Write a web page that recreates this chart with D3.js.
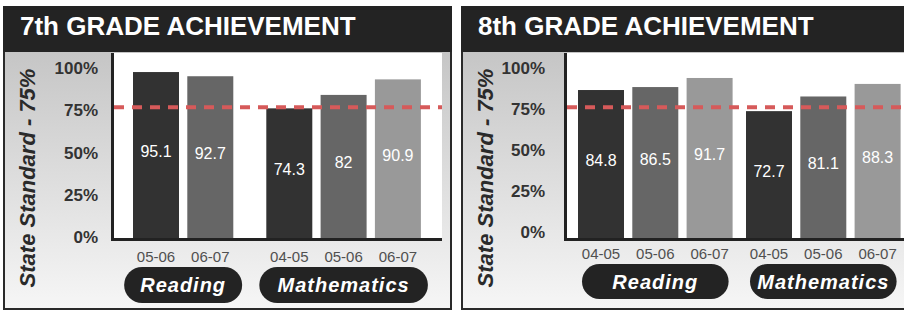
<!DOCTYPE html>
<html>
<head>
<meta charset="utf-8">
<script src="https://cdn.jsdelivr.net/npm/d3@7"></script>
<style>
  body { margin: 0; background: #fff; }
  svg { display: block; font-family: Arial, "Liberation Sans", sans-serif; }
</style>
</head>
<body>
<div id="chart-area"></div>
<script>
// Data
var titles = ["7th GRADE ACHIEVEMENT", "8th GRADE ACHIEVEMENT"];
var subjects = ["Reading", "Mathematics"];
var yearsReading7 = ["05-06", "06-07"];
var valuesReading7 = [95.1, 92.7];
var yearsMath7 = ["04-05", "05-06", "06-07"];
var valuesMath7 = [74.3, 82, 90.9];
var yearsReading8 = ["04-05", "05-06", "06-07"];
var valuesReading8 = [84.8, 86.5, 91.7];
var yearsMath8 = ["04-05", "05-06", "06-07"];
var valuesMath8 = [72.7, 81.1, 88.3];
var yTicks = [0, 25, 50, 75, 100];
var stateStandard = 75;
var yLabelText = "State Standard - 75%";

var barColors = ["#323232", "#666666", "#999999"];

function achievement_chart() {
    var width = 904, height = 310;
    var svg = d3.select("#chart-area").append("svg")
        .attr("width", width)
        .attr("height", height);

    var defs = svg.append("defs");
    var grad = defs.append("linearGradient")
        .attr("id", "panelGrad")
        .attr("x1", 0).attr("y1", 0).attr("x2", 0).attr("y2", 1);
    grad.append("stop").attr("offset", "0%").attr("stop-color", "#bdbdbd");
    grad.append("stop").attr("offset", "100%").attr("stop-color", "#f6f6f6");

    // panel layout
    var panels = [
        { title: titles[0], x: 4, w: 447, colEnd: 112, plotR: 442, firstBar: 133, groupGap: 33,
          tickRange: [237, 68], labelRight: 98, catY: 262, pillY: 267, pillH: 36, pillPad: 7,
          groups: [
            { name: subjects[0], years: yearsReading7, values: valuesReading7 },
            { name: subjects[1], years: yearsMath7, values: valuesMath7 } ] },
        { title: titles[1], x: 462, w: 460, colEnd: 565, plotR: 930, firstBar: 578, groupGap: 13.4,
          tickRange: [232, 68], labelRight: 545, catY: 259, pillY: 264, pillH: 35, pillPad: -4,
          groups: [
            { name: subjects[0], years: yearsReading8, values: valuesReading8 },
            { name: subjects[1], years: yearsMath8, values: valuesMath8 } ] }
    ];

    var frameTop = 7, frameBottom = 309, headerH = 46, barW = 46, barGap = 8.3;
    var y = d3.scaleLinear().domain([0, 100]).range([238, 63.5]);

    panels.forEach(function(p) {
        var g = svg.append("g");

        // frame + background
        g.append("rect")
            .attr("x", p.x).attr("y", frameTop)
            .attr("width", p.w).attr("height", frameBottom - frameTop)
            .attr("fill", "url(#panelGrad)")
            .attr("stroke", "#2a2a2a").attr("stroke-width", 2);

        // plot area
        var plotL = p.colEnd + 2;
        g.append("rect")
            .attr("x", plotL).attr("y", frameTop + headerH)
            .attr("width", p.plotR - plotL).attr("height", y(0) - frameTop - headerH)
            .attr("fill", "#fff");

        // header
        g.append("rect")
            .attr("x", p.x - 1).attr("y", frameTop - 1)
            .attr("width", p.w + 2).attr("height", headerH)
            .attr("fill", "#232323");
        g.append("text")
            .attr("x", p.x + 16).attr("y", frameTop + 28)
            .attr("fill", "#fff")
            .attr("font-size", "26px")
            .attr("font-weight", "bold")
            .text(p.title);

        // y tick labels
        var yt = d3.scaleLinear().domain([0, 100]).range(p.tickRange);
        g.selectAll(".ytick").data(yTicks).enter().append("text")
            .attr("class", "ytick")
            .attr("x", p.labelRight)
            .attr("y", function(d) { return yt(d); })
            .attr("dy", "0.36em")
            .attr("text-anchor", "end")
            .attr("font-size", "17px")
            .attr("font-weight", "bold")
            .attr("fill", "#333")
            .text(function(d) { return d + "%"; });

        // rotated y label
        g.append("text")
            .attr("transform", "translate(" + (p.x + 31) + "," + 178 + ") rotate(-90)")
            .attr("text-anchor", "middle")
            .attr("font-size", "22px")
            .attr("font-weight", "bold")
            .attr("font-style", "italic")
            .attr("fill", "#2a2a2a")
            .text(yLabelText);

        // bars
        var gx = p.firstBar;
        p.groups.forEach(function(grp) {
            var n = grp.years.length;
            var x = d3.scaleBand()
                .domain(grp.years)
                .range([gx, gx + n * barW + (n - 1) * barGap])
                .paddingInner(barGap / (barW + barGap));

            var rows = grp.years.map(function(yr, i) { return { year: yr, value: grp.values[i], i: i }; });

            g.selectAll(null).data(rows).enter().append("rect")
                .attr("x", function(d) { return x(d.year); })
                .attr("y", function(d) { return y(d.value); })
                .attr("width", x.bandwidth())
                .attr("height", function(d) { return y(0) - y(d.value); })
                .attr("fill", function(d) { return barColors[d.i]; });

            g.selectAll(null).data(rows).enter().append("text")
                .attr("x", function(d) { return x(d.year) + x.bandwidth() / 2; })
                .attr("y", function(d) { return (y(d.value) + y(0)) / 2 + 2; })
                .attr("text-anchor", "middle")
                .attr("font-size", "16px")
                .attr("fill", "#fff")
                .text(function(d) { return d.value; });

            g.selectAll(null).data(rows).enter().append("text")
                .attr("x", function(d) { return x(d.year) + x.bandwidth() / 2; })
                .attr("y", p.catY)
                .attr("text-anchor", "middle")
                .attr("font-size", "15px")
                .attr("fill", "#505050")
                .text(function(d) { return d.year; });

            // subject pill
            var gs = x.range()[0], ge = x.range()[1];
            var pw = Math.max(ge - gs + 2 * p.pillPad, 118);
            var cx = (gs + ge) / 2;
            g.append("rect")
                .attr("x", cx - pw / 2).attr("y", p.pillY)
                .attr("width", pw).attr("height", p.pillH)
                .attr("rx", p.pillH / 2)
                .attr("fill", "#232323");
            g.append("text")
                .attr("x", cx).attr("y", p.pillY + p.pillH / 2 + 7)
                .attr("text-anchor", "middle")
                .attr("font-size", "20px")
                .attr("font-weight", "bold")
                .attr("font-style", "italic")
                .attr("letter-spacing", "1px")
                .attr("fill", "#fff")
                .text(grp.name);

            gx = ge + p.groupGap;
        });

        // state standard line
        g.append("line")
            .attr("x1", plotL).attr("x2", p.plotR)
            .attr("y1", y(stateStandard)).attr("y2", y(stateStandard))
            .attr("stroke", "#d65a5a")
            .attr("stroke-width", 4)
            .attr("stroke-dasharray", "10,8");

        // axes lines
        g.append("line")
            .attr("x1", p.colEnd + 0.5).attr("x2", p.colEnd + 0.5)
            .attr("y1", frameTop + headerH).attr("y2", y(0) + 3)
            .attr("stroke", "#222").attr("stroke-width", 3);
        g.append("line")
            .attr("x1", p.colEnd - 1).attr("x2", p.plotR)
            .attr("y1", y(0) + 1.5).attr("y2", y(0) + 1.5)
            .attr("stroke", "#222").attr("stroke-width", 3);
    });
}

achievement_chart();
</script>
</body>
</html>
